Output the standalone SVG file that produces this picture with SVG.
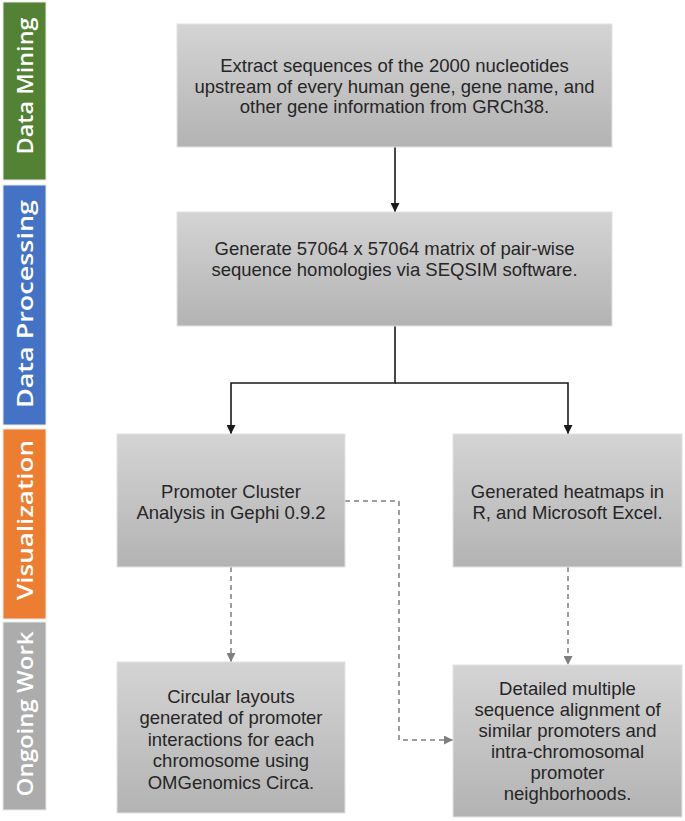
<svg xmlns="http://www.w3.org/2000/svg" width="685" height="821" viewBox="0 0 685 821">
<defs>
<linearGradient id="g" x1="0" y1="0" x2="0" y2="1">
<stop offset="0" stop-color="#d4d4d4"/>
<stop offset="1" stop-color="#b3b3b3"/>
</linearGradient>
<marker id="ab" viewBox="0 0 10 10" refX="10" refY="5" markerWidth="9" markerHeight="9" markerUnits="userSpaceOnUse" orient="auto">
<path d="M0,0 L10,5 L0,10 z" fill="#1a1a1a"/>
</marker>
<marker id="ag" viewBox="0 0 10 10" refX="10" refY="5" markerWidth="9" markerHeight="9" markerUnits="userSpaceOnUse" orient="auto">
<path d="M0,0 L10,5 L0,10 z" fill="#7f7f7f"/>
</marker>
</defs>
<style>
.box{fill:url(#g);stroke:#e2e2e2;stroke-width:1}
.t{font-family:"Liberation Sans",Arial,sans-serif;font-size:18.5px;fill:#262626;text-anchor:middle}
.side{stroke:#e8e8e8;stroke-width:1}
.st{font-family:"Open Sans","Liberation Sans",sans-serif;font-weight:600;font-size:21px;fill:#ffffff;text-anchor:middle}
.solid{fill:none;stroke:#1a1a1a;stroke-width:1.6}
.dash{fill:none;stroke:#7f7f7f;stroke-width:1.5;stroke-dasharray:5 4}
</style>
<rect width="685" height="821" fill="#ffffff"/>
<g id="phase-data-mining">
<rect class="side" x="3" y="2" width="43" height="178" fill="#548235"/>
<text class="st" transform="translate(33,86) rotate(-90)" textLength="137" lengthAdjust="spacingAndGlyphs">Data Mining</text>
</g>
<g id="phase-data-processing">
<rect class="side" x="3" y="185" width="43" height="240" fill="#4472c4"/>
<text class="st" transform="translate(33,304) rotate(-90)" textLength="208" lengthAdjust="spacingAndGlyphs">Data Processing</text>
</g>
<g id="phase-visualization">
<rect class="side" x="3" y="429" width="43" height="190" fill="#ed7d31"/>
<text class="st" transform="translate(33,520) rotate(-90)" textLength="160" lengthAdjust="spacingAndGlyphs">Visualization</text>
</g>
<g id="phase-ongoing-work">
<rect class="side" x="3" y="622" width="43" height="188" fill="#acacac"/>
<text class="st" transform="translate(33,714) rotate(-90)" textLength="165" lengthAdjust="spacingAndGlyphs">Ongoing Work</text>
</g>
<g id="connectors">
<path class="solid" d="M395,147 V212" marker-end="url(#ab)"/>
<path class="solid" d="M395,326 V383 H231 V434" marker-end="url(#ab)"/>
<path class="solid" d="M395,383 H568 V434" marker-end="url(#ab)"/>
<path class="dash" d="M231,567 V662" marker-end="url(#ag)"/>
<path class="dash" d="M568,567 V665" marker-end="url(#ag)"/>
<path class="dash" d="M345,501 H399 V740 H453" marker-end="url(#ag)"/>
</g>
<g id="node-extract">
<rect class="box" x="177" y="24" width="435" height="123"/>
<text class="t" x="394.5" y="72">Extract sequences of the 2000 nucleotides</text>
<text class="t" x="394.5" y="92.5">upstream of every human gene, gene name, and</text>
<text class="t" x="394.5" y="113">other gene information from GRCh38.</text>
</g>
<g id="node-generate">
<rect class="box" x="177" y="212" width="435" height="114"/>
<text class="t" x="394.5" y="255">Generate 57064 x 57064 matrix of pair-wise</text>
<text class="t" x="394.5" y="276">sequence homologies via SEQSIM software.</text>
</g>
<g id="node-gephi">
<rect class="box" x="117" y="434" width="228" height="133"/>
<text class="t" x="231" y="498">Promoter Cluster</text>
<text class="t" x="231" y="518.5">Analysis in Gephi 0.9.2</text>
</g>
<g id="node-heatmaps">
<rect class="box" x="453" y="434" width="229" height="133"/>
<text class="t" x="567.5" y="498">Generated heatmaps in</text>
<text class="t" x="567.5" y="518.5">R, and Microsoft Excel.</text>
</g>
<g id="node-circular">
<rect class="box" x="117" y="662" width="228" height="151"/>
<text class="t" x="231" y="702.5">Circular layouts</text>
<text class="t" x="231" y="724">generated of promoter</text>
<text class="t" x="231" y="745.5">interactions for each</text>
<text class="t" x="231" y="767">chromosome using</text>
<text class="t" x="231" y="788.5">OMGenomics Circa.</text>
</g>
<g id="node-alignment">
<rect class="box" x="453" y="665" width="229" height="152"/>
<text class="t" x="567.5" y="694.5">Detailed multiple</text>
<text class="t" x="567.5" y="715.5">sequence alignment of</text>
<text class="t" x="567.5" y="736.5">similar promoters and</text>
<text class="t" x="567.5" y="757.5">intra-chromosomal</text>
<text class="t" x="567.5" y="778.5">promoter</text>
<text class="t" x="567.5" y="799.5">neighborhoods.</text>
</g>
</svg>
